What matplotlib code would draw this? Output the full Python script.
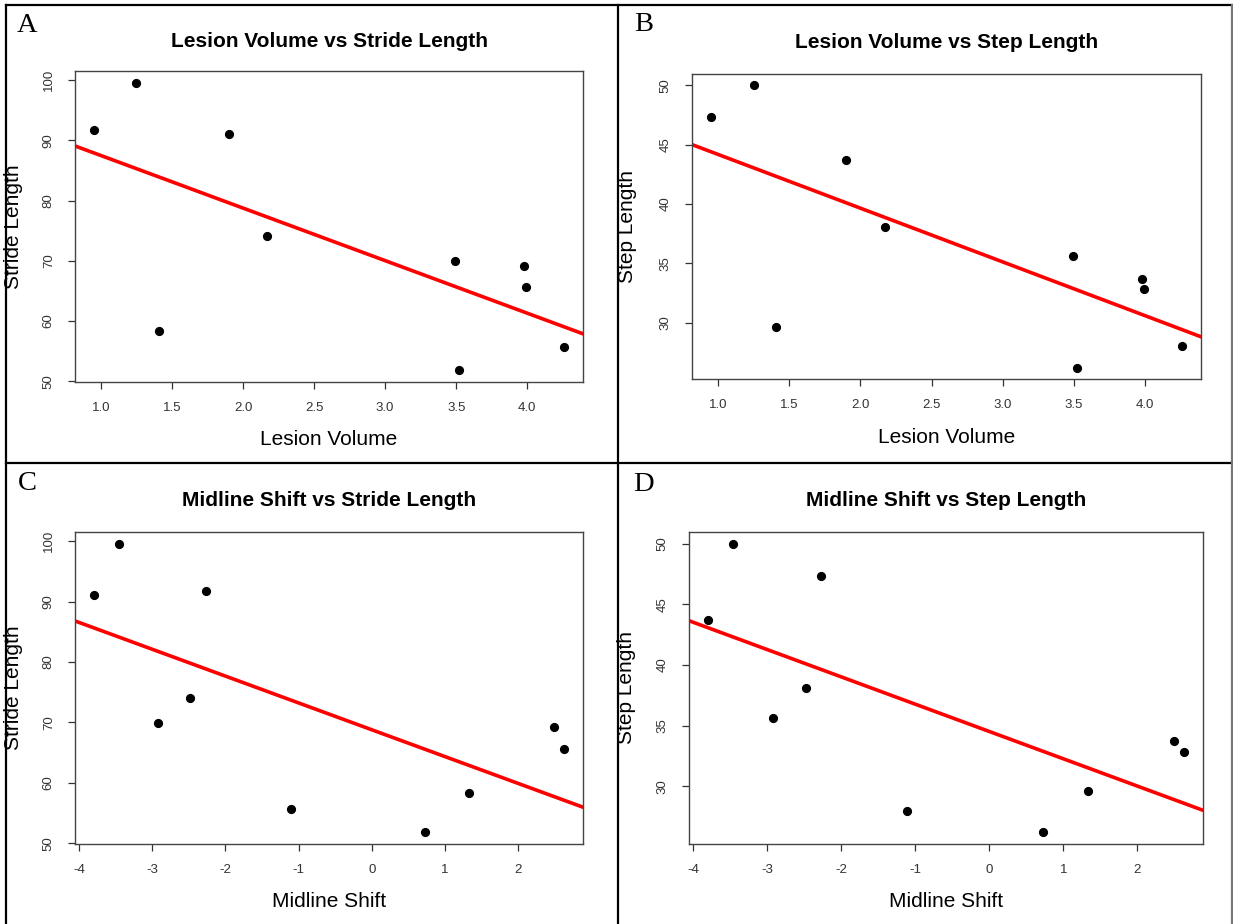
import matplotlib
matplotlib.use("Agg")
import matplotlib.pyplot as plt
from matplotlib.lines import Line2D
import numpy as np

# values (10 subjects)
lesion_volume = [0.95, 1.25, 1.41, 1.90, 2.17, 3.49, 3.52, 3.98, 3.99, 4.26]
midline_shift = [-2.27, -3.46, 1.33, -3.80, -2.48, -2.92, 0.73, 2.49, 2.63, -1.11]
stride_length = [91.8, 99.6, 58.4, 91.1, 74.1, 69.9, 51.8, 69.2, 65.6, 55.7]
step_length = [47.35, 50.0, 29.6, 43.7, 38.1, 35.6, 26.2, 33.7, 32.85, 28.0]

lesion_ticks = [1.0, 1.5, 2.0, 2.5, 3.0, 3.5, 4.0]
shift_ticks = [-4, -3, -2, -1, 0, 1, 2]
stride_ticks = [50, 60, 70, 80, 90, 100]
step_ticks = [30, 35, 40, 45, 50]

W, H = 1233, 924
fig = plt.figure(figsize=(W / 100, H / 100), dpi=100)
plt.rcParams['font.family'] = ['Liberation Sans', 'DejaVu Sans']


def fx(px):
    return px / W


def fy(py):
    return 1 - py / H


# panel: letter, letter pos, axes box (l, t, r, b), title, xlabel, ylabel, ylabel x
panels = [
    dict(letter='A', lpos=(17, 32), box=(75, 71, 583, 382), title_y=47, xlab_y=445, ylab_x=23,
         x=lesion_volume, y=stride_length, xt=lesion_ticks, yt=stride_ticks,
         title='Lesion Volume vs Stride Length', xl='Lesion Volume', yl='Stride Length'),
    dict(letter='B', lpos=(634, 31), box=(692, 74, 1201, 379), title_y=48, xlab_y=443, ylab_x=637,
         x=lesion_volume, y=step_length, xt=lesion_ticks, yt=step_ticks,
         title='Lesion Volume vs Step Length', xl='Lesion Volume', yl='Step Length'),
    dict(letter='C', lpos=(18, 490), box=(75, 532, 583, 844), title_y=506, xlab_y=907, ylab_x=23,
         x=midline_shift, y=stride_length, xt=shift_ticks, yt=stride_ticks,
         title='Midline Shift vs Stride Length', xl='Midline Shift', yl='Stride Length'),
    dict(letter='D', lpos=(633, 491), box=(689, 532, 1203, 844), title_y=506, xlab_y=907, ylab_x=636,
         x=midline_shift, y=step_length, xt=shift_ticks, yt=step_ticks,
         title='Midline Shift vs Step Length', xl='Midline Shift', yl='Step Length'),
]

for p in panels:
    l, t, r, b = p['box']
    ax = fig.add_axes([fx(l), fy(b), fx(r - l), (b - t) / H])
    x = np.array(p['x'])
    y = np.array(p['y'])
    ax.plot(x, y, 'o', color='black', markersize=5.6)
    # R-style 4% axis extension
    xr = x.max() - x.min()
    yr = y.max() - y.min()
    ax.set_xlim(x.min() - 0.04 * xr, x.max() + 0.04 * xr)
    ax.set_ylim(y.min() - 0.04 * yr, y.max() + 0.04 * yr)
    m, c = np.polyfit(x, y, 1)
    ax.axline((0, c), slope=m, color='#ff0000', linewidth=2.6)
    ax.set_xticks(p['xt'])
    ax.set_yticks(p['yt'])
    if p['xt'] == lesion_ticks:
        ax.set_xticklabels([f'{v:.1f}' for v in p['xt']])
    else:
        ax.set_xticklabels([str(v) for v in p['xt']])
    ax.tick_params(direction='out', length=5, width=0.9, color='#333333',
                   labelsize=9.5, labelcolor='#333333', pad=9.5)
    ax.tick_params(axis='y', labelrotation=90)
    for lab in ax.get_yticklabels():
        lab.set_va('center')
    for s in ax.spines.values():
        s.set_color('#444444')
        s.set_linewidth(1.0)
    cx = (l + r) / 2
    fig.text(fx(cx), fy(p['title_y']), p['title'], ha='center', va='baseline',
             fontsize=15, fontweight='bold')
    fig.text(fx(cx), fy(p['xlab_y']), p['xl'], ha='center', va='baseline', fontsize=15)
    fig.text(fx(p['ylab_x']), fy((t + b) / 2), p['yl'], ha='right', va='center',
             rotation=90, fontsize=15)
    fig.text(fx(p['lpos'][0]), fy(p['lpos'][1]), p['letter'], ha='left', va='baseline',
             fontsize=20.5, family='Liberation Serif')

# panel frame lines
frame = [
    ((6, 1233), (5, 5), 'black'),
    ((6, 6), (5, 924), 'black'),
    ((618, 618), (5, 924), 'black'),
    ((6, 1233), (463, 463), 'black'),
    ((1232, 1232), (5, 924), '#777777'),
]
for xs, ys, col in frame:
    fig.add_artist(Line2D([fx(xs[0]), fx(xs[1])], [fy(ys[0]), fy(ys[1])],
                          transform=fig.transFigure, color=col, linewidth=1.6))

fig.savefig('out.png', dpi=100)
